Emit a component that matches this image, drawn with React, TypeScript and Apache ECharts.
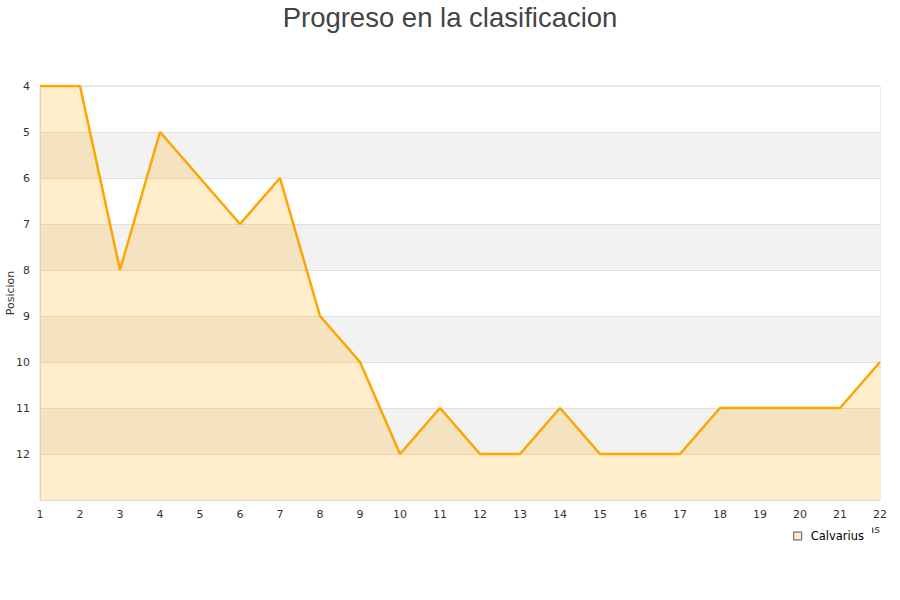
import React, { useEffect, useRef } from "react";
import * as echarts from "echarts";

const jornadas = ["1","2","3","4","5","6","7","8","9","10","11","12","13","14","15","16","17","18","19","20","21","22"];
const posiciones = [4, 4, 8, 5, 6, 7, 6, 9, 10, 12, 11, 12, 12, 11, 12, 12, 12, 11, 11, 11, 11, 10];
const seriesName = "Calvarius";
const titleText = "Progreso en la clasificacion";

export default function App() {
  const ref = useRef<HTMLDivElement>(null);
  useEffect(() => {
    const chart = echarts.init(ref.current!, null, { renderer: "svg" });
    chart.setOption({
      animation: false,
      backgroundColor: "#fff",
      title: {
        text: titleText,
        left: "center",
        top: -2,
        textStyle: { fontFamily: "Liberation Sans", fontSize: 27.5, fontWeight: "normal", color: "#444" },
      },
      grid: {
        left: 40, right: 20, top: 86, bottom: 100,
        show: true, borderColor: "#ddd", borderWidth: 1,
        containLabel: false, outerBoundsMode: "none",
      },
      xAxis: {
        type: "category",
        data: jornadas,
        boundaryGap: false,
        name: "Jornadas",
        nameLocation: "end",
        nameGap: 0,
        nameMoveOverlap: false,
        nameTextStyle: { fontFamily: "DejaVu Sans", fontSize: 11, color: "#333", align: "right", verticalAlign: "top", padding: [24, 0, 0, 0] },
        axisLine: { show: true, lineStyle: { color: "#ddd" } },
        axisTick: { show: false },
        axisLabel: { fontFamily: "DejaVu Sans", fontSize: 11, color: "#333", margin: 9 },
        splitLine: { show: false },
      },
      yAxis: {
        type: "value",
        inverse: true,
        min: 4,
        max: 13,
        interval: 1,
        name: "Posicion",
        nameLocation: "middle",
        nameGap: 24,
        nameMoveOverlap: false,
        nameTextStyle: { fontFamily: "DejaVu Sans", fontSize: 11, color: "#333" },
        axisLine: { show: true, lineStyle: { color: "#ddd" } },
        axisTick: { show: false },
        axisLabel: {
          fontFamily: "DejaVu Sans",
          fontSize: 11,
          color: "#333",
          margin: 10,
          formatter: (v: number) => (v === 13 ? "" : String(v)),
        },
        splitLine: { show: true, lineStyle: { color: "#e0e0e0" } },
        splitArea: { show: true, areaStyle: { color: ["#ffffff", "#f2f2f2"], opacity: 1 } },
      },
      legend: {
        data: [seriesName],
        right: 28,
        top: 525,
        padding: [5, 8, 5, 8],
        backgroundColor: "#fff",
        icon: "rect",
        itemWidth: 8,
        itemHeight: 8,
        itemGap: 6,
        itemStyle: { color: "rgba(255,165,0,0.2)", borderColor: "#555", borderWidth: 1 },
        textStyle: { fontFamily: "DejaVu Sans", fontSize: 11.5, color: "#000", padding: [0, 0, 0, 4] },
      },
      series: [
        {
          name: seriesName,
          type: "line",
          data: posiciones,
          showSymbol: false,
          symbol: "none",
          lineStyle: { color: "#ffa500", width: 2.5 },
          itemStyle: { color: "#ffa500" },
          areaStyle: { color: "#ffa500", opacity: 0.2, origin: "end" },
        },
      ],
    });
    return () => chart.dispose();
  }, []);
  return <div ref={ref} style={{ width: 900, height: 600, position: "absolute", left: 0, top: 0 }} />;
}
